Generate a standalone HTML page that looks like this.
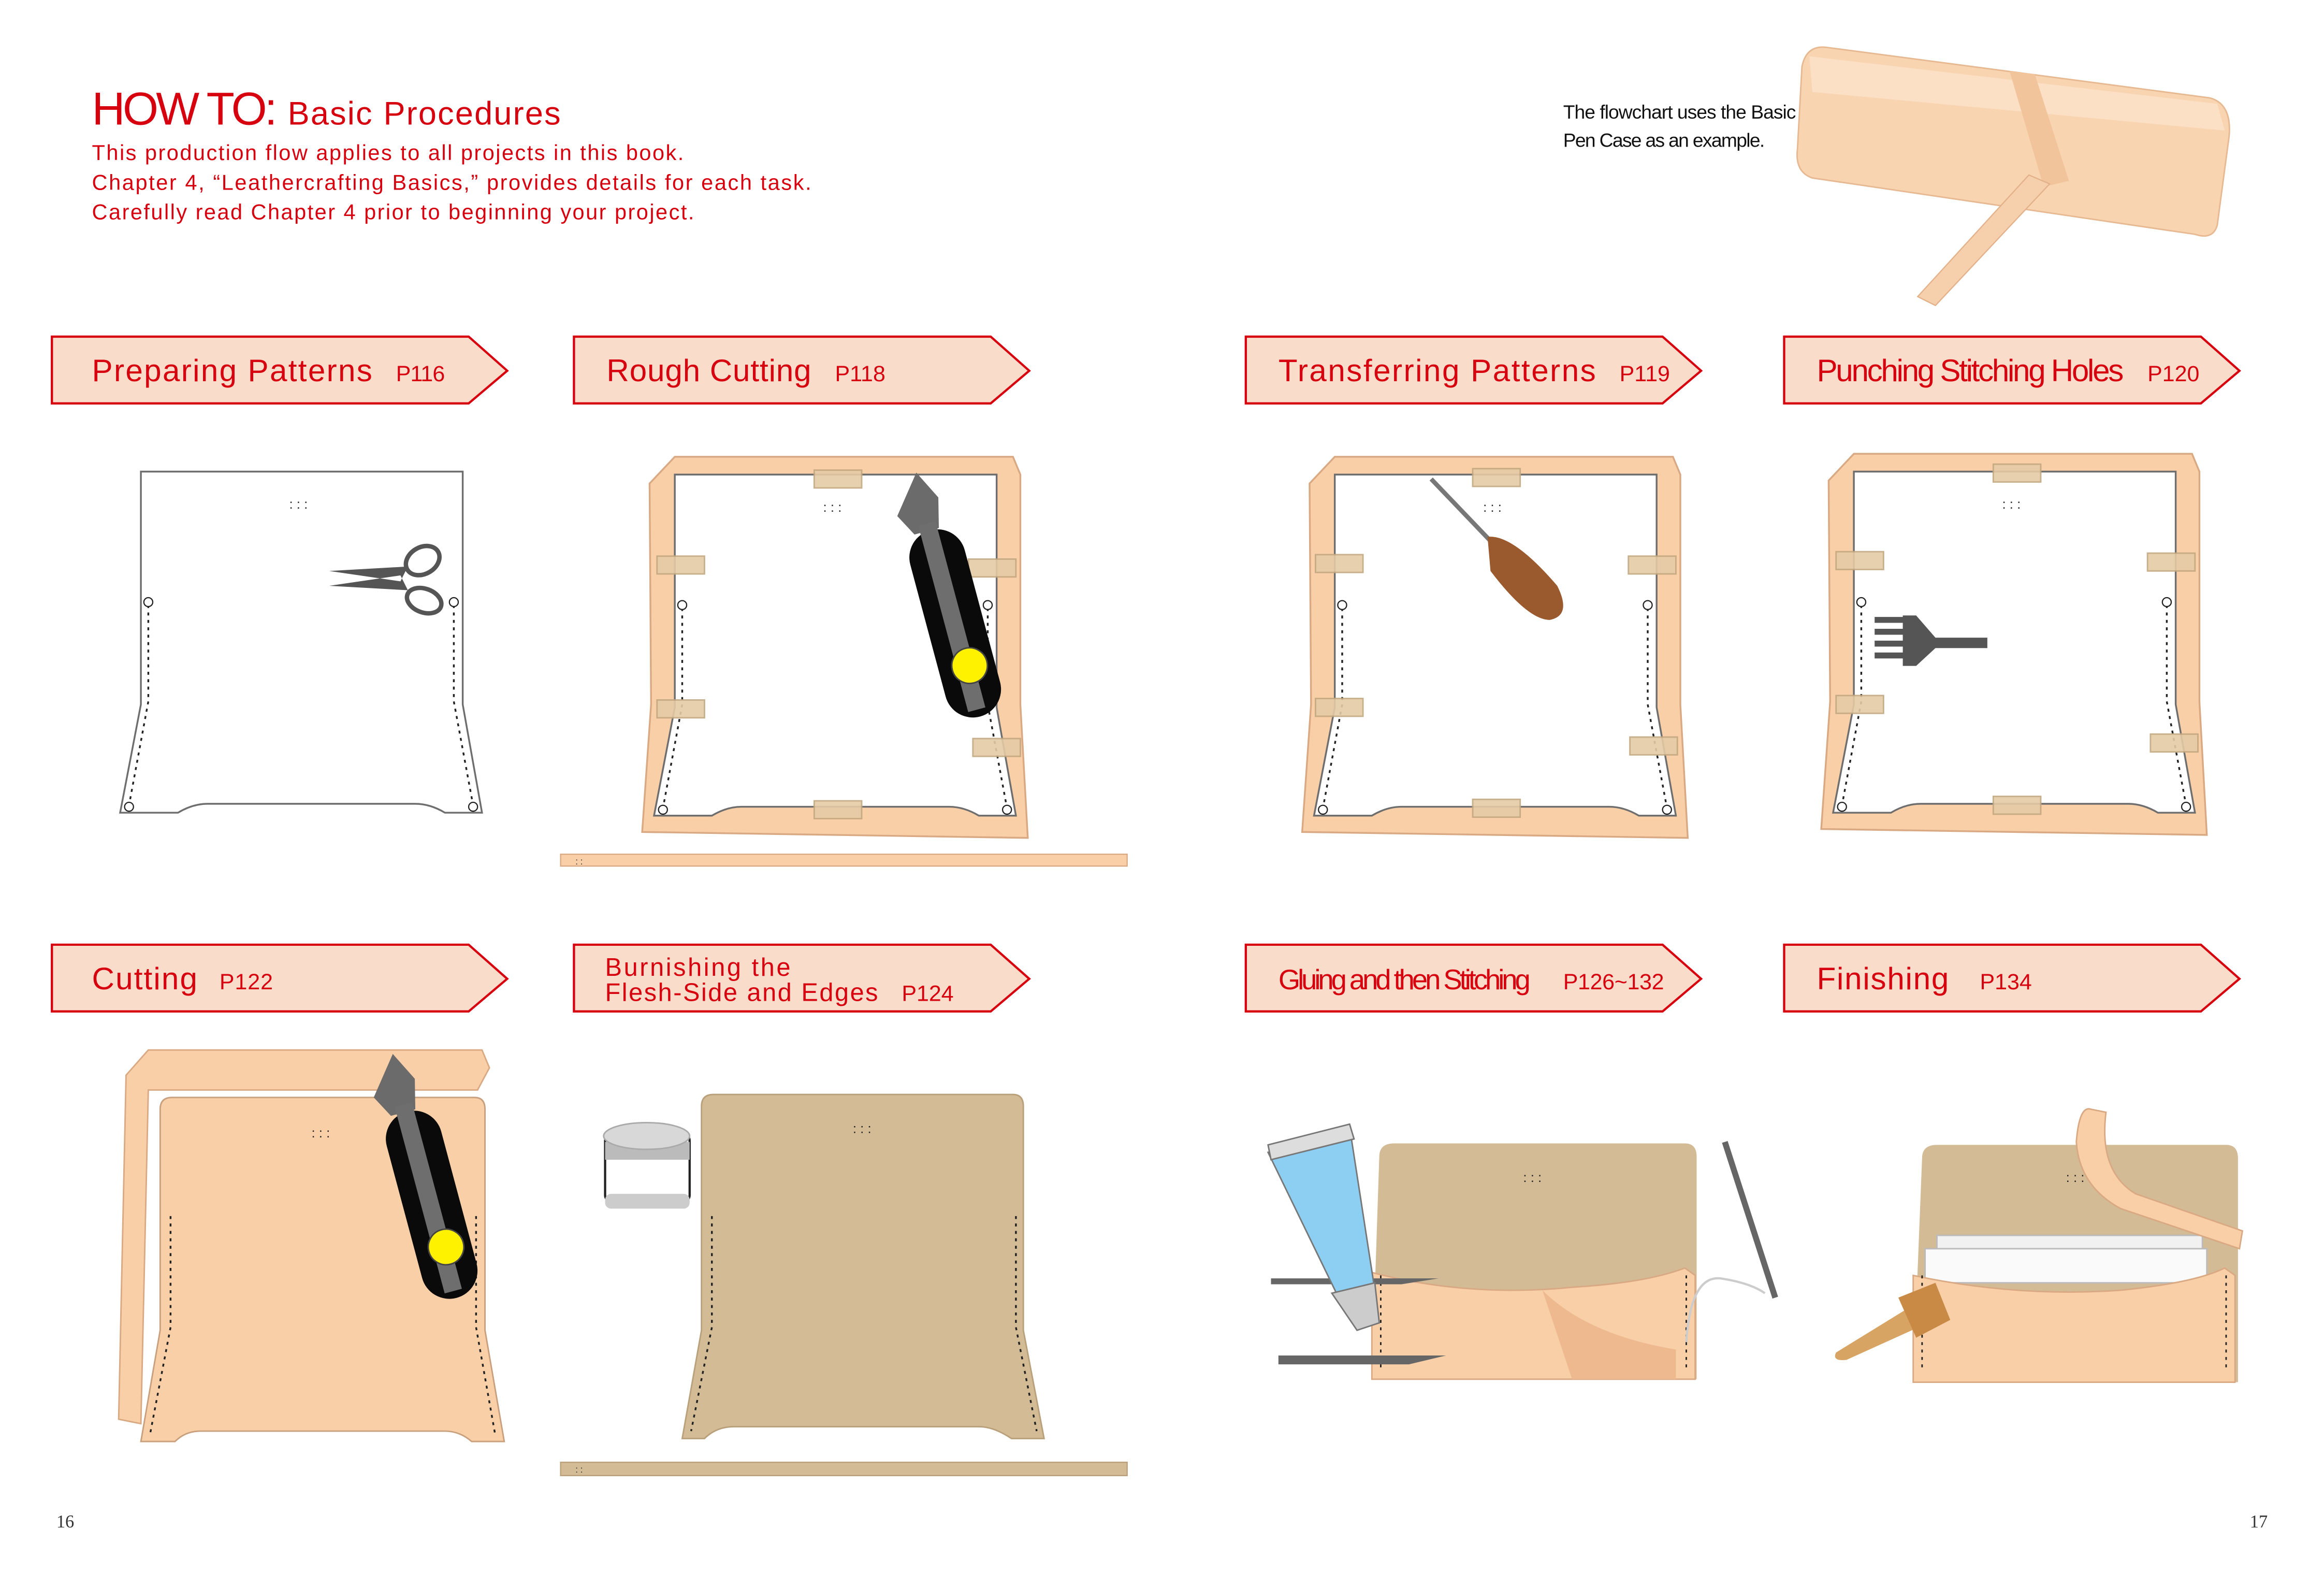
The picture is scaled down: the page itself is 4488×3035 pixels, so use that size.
<!DOCTYPE html>
<html><head><meta charset="utf-8"><style>
html,body{margin:0;padding:0;background:#fff}
svg{display:block}
text{font-family:"Liberation Sans",sans-serif}
</style></head><body>
<svg width="4488" height="3035" viewBox="0 0 1567 1060" preserveAspectRatio="none" xmlns="http://www.w3.org/2000/svg">
<defs>
<g id="banner"><polygon points="0,0 281,0 307,23 281,45 0,45" fill="#fadccb" stroke="#d7000f" stroke-width="1.5"/></g>
<g id="pat">
<path d="M0,0 H217 V157 L230,230 H205 Q195,224 185,224 H45 Q35,224 25,230 H-14 L0,157 Z" fill="#fff" stroke="#6e6e6e" stroke-width="1.2"/>
<path d="M5,90 V155 L-8,225 M211,90 V155 L224,225" stroke="#222" stroke-width="1.2" stroke-dasharray="2,3" fill="none"/>
<circle cx="5" cy="88" r="3" fill="#fff" stroke="#222" stroke-width="0.8"/><circle cx="211" cy="88" r="3" fill="#fff" stroke="#222" stroke-width="0.8"/>
<circle cx="-8" cy="226" r="3" fill="#fff" stroke="#222" stroke-width="0.8"/><circle cx="224" cy="226" r="3" fill="#fff" stroke="#222" stroke-width="0.8"/>
<text x="100" y="25" font-size="9" fill="#222">: : :</text>
</g>
<g id="hide">
<path d="M-15,8 L2,-10 H230 L235,2 V157 L240,247 L-20,243 L-14,157 Z" fill="#f9cfa8" stroke="#d9a984" stroke-width="1.2"/>
</g>
<g id="tape"><rect width="32" height="12" fill="#e5cba6" stroke="#c4a880" stroke-width="1" opacity="0.9"/></g>
<g id="knife">
<polygon points="0,0 20,-25 30,-5 25,15 8,15" fill="#6b6b6b"/>
<rect x="0" y="15" width="38" height="130" rx="19" fill="#0a0a0a"/>
<rect x="12" y="10" width="12" height="130" fill="#6e6e6e"/>
<circle cx="21" cy="110" r="12" fill="#fff200" stroke="#444" stroke-width="1"/>
</g>
</defs>

<!-- Header -->
<text x="62" y="84" font-size="31" fill="#d7000f" textLength="125">HOW TO:</text>
<text x="194" y="84" font-size="22" fill="#d7000f" textLength="184">Basic Procedures</text>
<text font-size="14.5" fill="#d7000f"><tspan x="62" y="108" textLength="399">This production flow applies to all projects in this book.</tspan><tspan x="62" y="128" textLength="485">Chapter 4, “Leathercrafting Basics,” provides details for each task.</tspan><tspan x="62" y="148" textLength="406">Carefully read Chapter 4 prior to beginning your project.</tspan></text>
<text font-size="13" fill="#111"><tspan x="1054" y="80" textLength="157">The flowchart uses the Basic</tspan><tspan x="1054" y="99" textLength="136">Pen Case as an example.</tspan></text>

<!-- Top right pen case -->
<path d="M1215,45 Q1218,30 1232,32 L1490,66 Q1505,70 1503,92 L1495,152 Q1492,162 1480,158 L1222,120 Q1210,116 1212,100 Z" fill="#f8d4b1" stroke="#e7b992" stroke-width="1"/>
<path d="M1220,38 L1495,70 L1500,88 L1222,62 Z" fill="#fbe0c6"/>
<path d="M1355,48 L1372,50 L1395,122 L1378,126 Z" fill="#f1c49c"/>
<path d="M1368,118 L1382,124 L1305,206 L1293,200 Z" fill="#f6cfac" stroke="#e2b18a" stroke-width="0.8"/>

<!-- Banners -->
<use href="#banner" x="35" y="227"/><use href="#banner" x="387" y="227"/><use href="#banner" x="840" y="227"/><use href="#banner" x="1203" y="227"/>
<use href="#banner" x="35" y="637"/><use href="#banner" x="387" y="637"/><use href="#banner" x="840" y="637"/><use href="#banner" x="1203" y="637"/>
<g font-size="21" fill="#d7000f">
<text x="62" y="257" textLength="189">Preparing Patterns</text>
<text x="409" y="257" textLength="138">Rough Cutting</text>
<text x="862" y="257" textLength="214">Transferring Patterns</text>
<text x="1225" y="257" textLength="207">Punching Stitching Holes</text>
<text x="62" y="667" textLength="71">Cutting</text>
<text x="862" y="667" font-size="19" textLength="170">Gluing and then Stitching</text>
<text x="1225" y="667" textLength="89">Finishing</text>
</g>
<g font-size="15" fill="#d7000f">
<text x="267" y="257" textLength="33">P116</text>
<text x="563" y="257" textLength="34">P118</text>
<text x="1092" y="257" textLength="34">P119</text>
<text x="1448" y="257" textLength="35">P120</text>
<text x="148" y="667" textLength="36">P122</text>
<text x="608" y="675" textLength="35">P124</text>
<text x="1054" y="667" textLength="68">P126~132</text>
<text x="1335" y="667" textLength="35">P134</text>
</g>
<text font-size="17" fill="#d7000f"><tspan x="408" y="658" textLength="125">Burnishing the</tspan><tspan x="408" y="675" textLength="184">Flesh-Side and Edges</tspan></text>

<!-- Panel 1 -->
<use href="#pat" x="95" y="318"/>
<g fill="none" stroke="#555" stroke-width="3">
<ellipse cx="285" cy="378" rx="12" ry="9" transform="rotate(-30 285 378)"/>
<ellipse cx="286" cy="405" rx="12" ry="8" transform="rotate(20 286 405)"/>
</g>
<path d="M222,385 L275,382 L270,392 Z M222,395 L275,398 L270,388 Z" fill="#555"/>

<!-- Panel 2 -->
<use href="#hide" x="453" y="318"/>
<use href="#pat" x="455" y="320"/>
<use href="#tape" x="549" y="317"/><use href="#tape" x="443" y="375"/><use href="#tape" x="443" y="472"/><use href="#tape" x="653" y="377"/><use href="#tape" x="656" y="498"/><use href="#tape" x="549" y="540"/>
<use href="#knife" transform="translate(605,348) rotate(-15)"/>
<rect x="378" y="576" width="382" height="8" fill="#f9cfa8" stroke="#d9a984" stroke-width="0.8"/>
<text x="388" y="583" font-size="6" fill="#222">: :</text>

<!-- Panel 3 -->
<use href="#hide" x="898" y="318"/>
<use href="#pat" x="900" y="320"/>
<use href="#tape" x="993" y="316"/><use href="#tape" x="887" y="374"/><use href="#tape" x="887" y="471"/><use href="#tape" x="1098" y="375"/><use href="#tape" x="1099" y="497"/><use href="#tape" x="993" y="539"/>
<path d="M965,323 L1010,370" stroke="#777" stroke-width="3"/>
<path d="M1003,362 Q1020,360 1050,395 Q1060,415 1045,418 Q1030,418 1005,385 Z" fill="#9b5a2e"/>

<!-- Panel 4 -->
<use href="#hide" x="1248" y="316"/>
<use href="#pat" x="1250" y="318"/>
<use href="#tape" x="1344" y="313"/><use href="#tape" x="1238" y="372"/><use href="#tape" x="1238" y="469"/><use href="#tape" x="1448" y="373"/><use href="#tape" x="1450" y="495"/><use href="#tape" x="1344" y="537"/>
<path d="M1264,418 H1285 M1264,426 H1285 M1264,434 H1285 M1264,442 H1285" stroke="#555" stroke-width="4"/>
<path d="M1283,415 H1292 L1305,430 H1340 V437 H1305 L1292,449 H1283 Z" fill="#555"/>

<!-- Row2 Panel 1 -->
<path d="M85,725 L100,708 H325 L330,720 L322,735 H100 L95,960 L80,957 Z" fill="#f9cfa8" stroke="#d9a984" stroke-width="1"/>
<path d="M108,748 Q108,740 116,740 H320 Q327,740 327,748 V897 L340,972 H318 Q310,965 300,965 H135 Q125,965 118,972 H95 L108,897 Z" fill="#f9cfa8" stroke="#c9a07e" stroke-width="1"/>
<path d="M115,820 V895 L101,968 M321,820 V895 L334,968" stroke="#222" stroke-width="1.2" stroke-dasharray="2,3" fill="none"/>
<text x="210" y="767" font-size="9" fill="#222">: : :</text>
<use href="#knife" transform="translate(252,740) rotate(-15)"/>

<!-- Row2 Panel 2 -->
<path d="M473,746 Q473,738 481,738 H683 Q690,738 690,746 V897 L704,970 H682 Q670,962 660,962 H495 Q483,962 475,970 H460 L473,897 Z" fill="#d3bb96" stroke="#b9a07a" stroke-width="1"/>
<path d="M480,820 V895 L466,965 M685,820 V895 L699,965" stroke="#222" stroke-width="1.2" stroke-dasharray="2,3" fill="none"/>
<text x="575" y="764" font-size="9" fill="#222">: : :</text>
<rect x="408" y="765" width="57" height="45" rx="4" fill="#fff" stroke="#222" stroke-width="1.5"/>
<rect x="408" y="770" width="57" height="12" fill="#bbb"/>
<ellipse cx="436" cy="766" rx="29" ry="9" fill="#d8d8d8" stroke="#aaa"/>
<rect x="408" y="805" width="57" height="10" rx="4" fill="#ccc"/>
<rect x="378" y="986" width="382" height="9" fill="#d3bb96" stroke="#b9a07a" stroke-width="0.8"/>
<text x="388" y="993" font-size="6" fill="#222">: :</text>

<!-- Row2 Panel 3 -->
<path d="M930,780 Q930,771 940,771 H1136 Q1144,771 1144,780 V930 H925 Z" fill="#d3bb96"/>
<path d="M925,858 Q990,875 1060,868 Q1110,865 1136,855 L1143,860 V930 H925 Z" fill="#f9cfa8" stroke="#d9a984"/>
<path d="M1040,870 Q1070,900 1130,910 V930 H1060 Z" fill="#eeb98f"/>
<path d="M931,860 V925 M1137,860 V925" stroke="#222" stroke-dasharray="2,3"/>
<text x="1027" y="797" font-size="9" fill="#222">: : :</text>
<path d="M1137,905 Q1140,860 1160,862 Q1180,865 1190,872" stroke="#ccc" fill="none" stroke-width="1.5"/>
<path d="M1163,770 L1197,875" stroke="#666" stroke-width="4"/>
<path d="M857,862 H970 L945,866 H857 Z M862,914 H975 L950,920 H862 Z" fill="#666"/>
<path d="M855,777 L910,760 L927,870 Q925,880 915,882 L905,880 Z" fill="#8ccff3" stroke="#777" stroke-width="1"/>
<path d="M855,772 L910,758 L913,768 L857,782 Z" fill="#ddd" stroke="#777"/>
<path d="M898,872 L927,865 L930,892 L915,897 Z" fill="#ccc" stroke="#777"/>

<!-- Row2 Panel 4 -->
<path d="M1296,781 Q1296,772 1306,772 H1501 Q1509,772 1509,781 V932 H1290 Z" fill="#d3bb96"/>
<path d="M1306,833 H1485 V860 H1306 Z" fill="#f1f1f1" stroke="#bbb"/>
<path d="M1298,842 H1488 V865 H1298 Z" fill="#fafafa" stroke="#bbb"/>
<path d="M1290,860 Q1360,875 1430,870 Q1480,865 1500,855 L1507,860 V932 H1290 Z" fill="#f9cfa8" stroke="#d9a984"/>
<path d="M1296,860 V925 M1501,860 V925" stroke="#222" stroke-dasharray="2,3"/>
<text x="1393" y="797" font-size="9" fill="#222">: : :</text>
<path d="M1400,770 Q1402,745 1410,748 L1420,750 Q1415,790 1440,805 L1512,830 L1510,842 L1430,815 Q1402,800 1400,770 Z" fill="#f9cfa8" stroke="#d9a984"/>
<path d="M1238,912 L1290,880 L1298,893 L1245,917 Q1235,918 1238,912 Z" fill="#d8a463"/>
<path d="M1280,875 L1305,865 L1315,890 L1292,902 Z" fill="#c98a45"/>

<!-- Page numbers -->
<text x="38" y="1030" font-size="12" fill="#333" style="font-family:'Liberation Serif',serif">16</text>
<text x="1517" y="1030" font-size="12" fill="#333" style="font-family:'Liberation Serif',serif">17</text>
</svg>
</body></html>
